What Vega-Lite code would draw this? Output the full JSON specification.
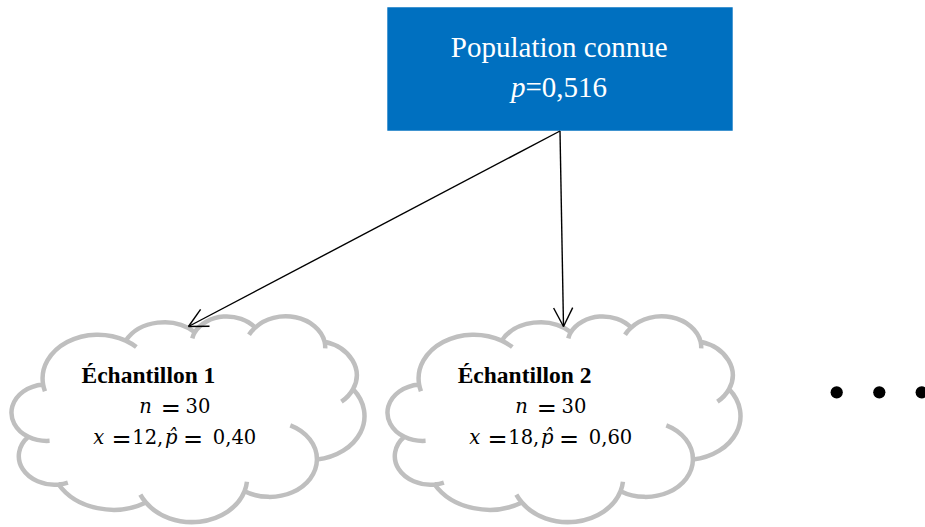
{
  "$schema": "https://vega.github.io/schema/vega-lite/v6.json",
  "width": 925,
  "height": 527,
  "padding": 0,
  "autosize": {"type": "none"},
  "background": "white",
  "config": {"view": {"stroke": null}},
  "datasets": {
    "box": [{"x": 387.3, "x2": 732.7, "y": 7.3, "y2": 130.7}],
    "clouds": [
      {"sample": "Échantillon 1", "x": 187.85, "y": 419},
      {"sample": "Échantillon 2", "x": 563.85, "y": 419}
    ],
    "links": [
      {"part": "shaft 1", "x": 560, "y": 131, "x2": 188.5, "y2": 326.5},
      {"part": "shaft 2", "x": 560, "y": 131, "x2": 563.5, "y2": 326.5},
      {"part": "head 1a", "x": 188.5, "y": 326.5, "x2": 209.5, "y2": 326.2},
      {"part": "head 1b", "x": 188.5, "y": 326.5, "x2": 200.6, "y2": 309.3},
      {"part": "head 2a", "x": 563.5, "y": 326.5, "x2": 572.7, "y2": 307.6},
      {"part": "head 2b", "x": 563.5, "y": 326.5, "x2": 553.6, "y2": 308.0}
    ],
    "dots": [
      {"x": 836.7, "y": 392.3},
      {"x": 879.3, "y": 392.3},
      {"x": 921.7, "y": 392.3}
    ],
    "boxText": [
      {"t": "Population connue", "x": 559.2, "y": 56.7},
      {"t": "=0,516", "x": 566.3, "y": 96.7}
    ],
    "boxItalic": [
      {"t": "p", "x": 518.3, "y": 96.7}
    ],
    "labels": [
      {"t": "Échantillon 1", "x": 81.5, "y": 382.7},
      {"t": "Échantillon 2", "x": 457.7, "y": 382.7}
    ],
    "mathEquals": [
      {"t": "=", "x": 170.8, "y": 413.3},
      {"t": "=", "x": 121.5, "y": 444},
      {"t": "=", "x": 193, "y": 444},
      {"t": "=", "x": 546.8, "y": 413.3},
      {"t": "=", "x": 497.5, "y": 444},
      {"t": "=", "x": 569, "y": 444}
    ],
    "mathRegular": [
      {"t": "30", "x": 198, "y": 413.3},
      {"t": "12,", "x": 147.8, "y": 444},
      {"t": "0,40", "x": 234.5, "y": 444},
      {"t": "30", "x": 574, "y": 413.3},
      {"t": "18,", "x": 523.8, "y": 444},
      {"t": "0,60", "x": 610.5, "y": 444}
    ],
    "mathItalic": [
      {"t": "n", "x": 145.5, "y": 413.3},
      {"t": "x", "x": 98.8, "y": 444},
      {"t": "p̂", "x": 171.2, "y": 444},
      {"t": "n", "x": 521.5, "y": 413.3},
      {"t": "x", "x": 474.8, "y": 444},
      {"t": "p̂", "x": 547.2, "y": 444}
    ]
  },
  "layer": [
    {
      "data": {"name": "box"},
      "mark": {"type": "rect", "fill": "#0070C0"},
      "encoding": {
        "x": {"field": "x", "type": "quantitative", "scale": {"domain": [0, 925], "nice": false, "zero": false}, "axis": null},
        "x2": {"field": "x2"},
        "y": {"field": "y", "type": "quantitative", "scale": {"domain": [0, 527], "nice": false, "zero": false, "reverse": true}, "axis": null},
        "y2": {"field": "y2"}
      }
    },
    {
      "data": {"name": "clouds"},
      "mark": {
        "type": "point",
        "shape": "M -144.76 -34.54 A 55.23 43.91 0 0 1 -62.12 -78.35 A 43.61 34.72 0 0 1 6.99 -86.81 A 35.70 28.40 0 0 1 67.32 -91.35 A 39.72 31.51 0 0 1 136.77 -77.28 A 43.61 34.75 0 0 1 165.18 -29.84 A 55.41 44.05 0 0 1 129.08 40.60 A 47.31 37.59 0 0 1 56.72 72.18 A 55.22 44.03 0 0 1 -41.89 83.56 A 63.14 50.37 0 0 1 -129.20 65.44 A 35.66 28.43 0 0 1 -159.48 17.83 A 35.53 28.38 0 0 1 -144.76 -34.54 Z M -138.27 21.87 A 35.53 28.38 0 0 1 -159.48 17.83 M -119.99 63.54 A 35.66 28.43 0 0 1 -129.20 65.44 M -41.89 83.56 A 55.22 44.03 0 0 1 -47.50 75.58 M 59.10 62.83 A 55.22 44.03 0 0 1 56.72 72.18 M 102.46 6.47 A 47.31 37.59 0 0 1 129.08 40.60 M 165.18 -29.84 A 43.61 34.75 0 0 1 153.56 -17.27 M 136.77 -77.28 A 39.72 31.51 0 0 1 137.34 -70.53 M 61.16 -84.32 A 39.72 31.51 0 0 1 67.32 -91.35 M 4.42 -80.65 A 35.70 28.40 0 0 1 6.99 -86.81 M -62.16 -78.39 A 55.23 43.91 0 0 1 -51.49 -71.91 M -142.90 -27.76 A 55.23 43.91 0 0 1 -144.76 -34.54",
        "size": 4,
        "filled": true,
        "fill": "#FFFFFF",
        "stroke": "#BFBFBF",
        "strokeWidth": 4.5,
        "opacity": 1,
        "fillOpacity": 1,
        "strokeOpacity": 1
      },
      "encoding": {
        "x": {"field": "x", "type": "quantitative", "scale": {"domain": [0, 925], "nice": false, "zero": false}, "axis": null},
        "y": {"field": "y", "type": "quantitative", "scale": {"domain": [0, 527], "nice": false, "zero": false, "reverse": true}, "axis": null}
      }
    },
    {
      "data": {"name": "links"},
      "mark": {"type": "rule", "color": "#000000", "strokeWidth": 1.4},
      "encoding": {
        "x": {"field": "x", "type": "quantitative", "scale": {"domain": [0, 925], "nice": false, "zero": false}, "axis": null},
        "x2": {"field": "x2"},
        "y": {"field": "y", "type": "quantitative", "scale": {"domain": [0, 527], "nice": false, "zero": false, "reverse": true}, "axis": null},
        "y2": {"field": "y2"}
      }
    },
    {
      "data": {"name": "dots"},
      "mark": {"type": "point", "shape": "circle", "filled": true, "color": "#000000", "opacity": 1, "size": 150},
      "encoding": {
        "x": {"field": "x", "type": "quantitative", "scale": {"domain": [0, 925], "nice": false, "zero": false}, "axis": null},
        "y": {"field": "y", "type": "quantitative", "scale": {"domain": [0, 527], "nice": false, "zero": false, "reverse": true}, "axis": null}
      }
    },
    {
      "data": {"name": "boxText"},
      "mark": {"type": "text", "font": "Liberation Serif", "fontSize": 29, "color": "#FFFFFF", "align": "center", "baseline": "alphabetic"},
      "encoding": {
        "x": {"field": "x", "type": "quantitative", "scale": {"domain": [0, 925], "nice": false, "zero": false}, "axis": null},
        "y": {"field": "y", "type": "quantitative", "scale": {"domain": [0, 527], "nice": false, "zero": false, "reverse": true}, "axis": null},
        "text": {"field": "t"}
      }
    },
    {
      "data": {"name": "boxItalic"},
      "mark": {"type": "text", "font": "Liberation Serif", "fontSize": 29, "fontStyle": "italic", "color": "#FFFFFF", "align": "center", "baseline": "alphabetic"},
      "encoding": {
        "x": {"field": "x", "type": "quantitative", "scale": {"domain": [0, 925], "nice": false, "zero": false}, "axis": null},
        "y": {"field": "y", "type": "quantitative", "scale": {"domain": [0, 527], "nice": false, "zero": false, "reverse": true}, "axis": null},
        "text": {"field": "t"}
      }
    },
    {
      "data": {"name": "labels"},
      "mark": {"type": "text", "font": "Liberation Serif", "fontSize": 23.5, "fontWeight": "bold", "color": "#000000", "align": "left", "baseline": "alphabetic"},
      "encoding": {
        "x": {"field": "x", "type": "quantitative", "scale": {"domain": [0, 925], "nice": false, "zero": false}, "axis": null},
        "y": {"field": "y", "type": "quantitative", "scale": {"domain": [0, 527], "nice": false, "zero": false, "reverse": true}, "axis": null},
        "text": {"field": "t"}
      }
    },
    {
      "data": {"name": "mathEquals"},
      "mark": {"type": "text", "font": "DejaVu Serif", "fontSize": 24, "color": "#000000", "align": "center", "baseline": "alphabetic", "dy": 2.5},
      "encoding": {
        "x": {"field": "x", "type": "quantitative", "scale": {"domain": [0, 925], "nice": false, "zero": false}, "axis": null},
        "y": {"field": "y", "type": "quantitative", "scale": {"domain": [0, 527], "nice": false, "zero": false, "reverse": true}, "axis": null},
        "text": {"field": "t"}
      }
    },
    {
      "data": {"name": "mathRegular"},
      "mark": {"type": "text", "font": "DejaVu Serif", "fontSize": 19.5, "color": "#000000", "align": "center", "baseline": "alphabetic"},
      "encoding": {
        "x": {"field": "x", "type": "quantitative", "scale": {"domain": [0, 925], "nice": false, "zero": false}, "axis": null},
        "y": {"field": "y", "type": "quantitative", "scale": {"domain": [0, 527], "nice": false, "zero": false, "reverse": true}, "axis": null},
        "text": {"field": "t"}
      }
    },
    {
      "data": {"name": "mathItalic"},
      "mark": {"type": "text", "font": "DejaVu Serif", "fontSize": 19.5, "fontStyle": "italic", "color": "#000000", "align": "center", "baseline": "alphabetic"},
      "encoding": {
        "x": {"field": "x", "type": "quantitative", "scale": {"domain": [0, 925], "nice": false, "zero": false}, "axis": null},
        "y": {"field": "y", "type": "quantitative", "scale": {"domain": [0, 527], "nice": false, "zero": false, "reverse": true}, "axis": null},
        "text": {"field": "t"}
      }
    }
  ]
}
